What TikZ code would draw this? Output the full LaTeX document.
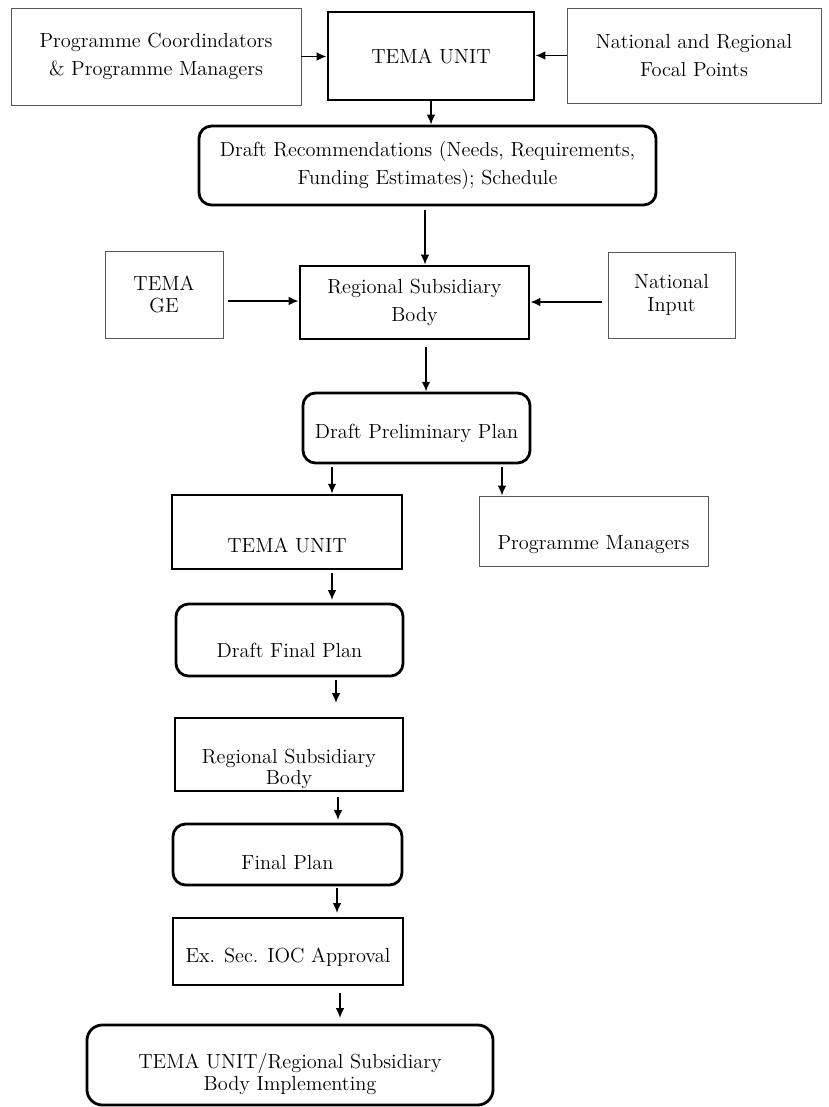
\documentclass[tikz,border=0pt]{standalone}
\usepackage{amssymb,amsmath}
\usepackage{fontspec}
\usepackage{xcolor}
\usepackage{tikz}
\usetikzlibrary{arrows.meta}

\begin{document}
\begin{tikzpicture}[x=0.025cm, y=-0.025cm, >={Latex[length=7pt,width=6pt]},
    font=\fontsize{14.5}{20}\selectfont,
    every node/.style={align=center, inner sep=0pt},
    thinbox/.style={draw=black!65, line width=0.6pt},
    thickbox/.style={draw, line width=2pt},
    roundbox/.style={draw, line width=2pt, rounded corners=9pt},
    arr/.style={->, line width=1pt}]
\useasboundingbox (0,0) rectangle (829,1107);

% top row
\node[thinbox, minimum width=7.25cm, minimum height=2.425cm] (pc) at (156,56.5)
  {Programme Coordindators\\ \& Programme Managers};
\node[thickbox, minimum width=5.15cm, minimum height=2.2cm] (tema1) at (431,56) {TEMA UNIT};
\node[thinbox, minimum width=6.35cm, minimum height=2.375cm] (nrfp) at (694,55.5)
  {National and Regional\\ Focal Points};
\draw[arr] (pc.east) -- (pc.east -| tema1.west);
\draw[arr] (nrfp.west) -- (nrfp.west -| tema1.east);

\node[roundbox, minimum width=11.425cm, minimum height=1.975cm] (recs) at (427.5,165.5)
  {Draft Recommendations (Needs, Requirements,\\ Funding Estimates); Schedule};
\draw[arr] (tema1.south) -- (tema1.south |- recs.north);

% second row
\node[thickbox, minimum width=5.725cm, minimum height=1.825cm] (rsb1) at (414.5,302.5)
  {Regional Subsidiary\\ Body};
\node[thinbox, minimum width=2.95cm, minimum height=2.175cm] (temage) at (164,294.5)
  {TEMA\\[-4pt] GE};
\node[thinbox, minimum width=3.175cm, minimum height=2.15cm] (natin) at (671.5,295)
  {National\\[-4pt] Input};
\coordinate (r1) at (425,210);
\coordinate (g1) at (228,301);
\coordinate (n1) at (602,302);
\draw[arr] (r1) -- (r1 |- rsb1.north);
\draw[arr] (g1) -- (g1 -| rsb1.west);
\draw[arr] (n1) -- (n1 -| rsb1.east);

\node[roundbox, minimum width=5.675cm, minimum height=1.75cm,
  label={[yshift=-0.125cm]center:Draft Preliminary Plan}] (dpp) at (416.5,428) {};
\coordinate (r2) at (426,347);
\draw[arr] (r2) -- (r2 |- dpp.north);

% split
\node[thickbox, minimum width=5.75cm, minimum height=1.85cm,
  label={[yshift=-0.325cm]center:TEMA UNIT}] (tema2) at (287,532) {};
\node[thinbox, minimum width=5.725cm, minimum height=1.75cm,
  label={[yshift=-0.35cm]center:Programme Managers}] (pm) at (593.5,531) {};
\coordinate (d1) at (332,467);
\coordinate (d2) at (502,467);
\draw[arr] (d1) -- (d1 |- tema2.north);
\draw[arr] (d2) -- (d2 |- pm.north);

% lower column
\node[roundbox, minimum width=5.675cm, minimum height=1.8cm,
  label={[yshift=-0.25cm]center:Draft Final Plan}] (dfp) at (289.5,640) {};
\node[thickbox, minimum width=5.7cm, minimum height=1.825cm,
  label={[yshift=-0.36cm]center:Regional Subsidiary\\[-4.5pt] Body}] (rsb2) at (289,754.5) {};
\node[roundbox, minimum width=5.725cm, minimum height=1.525cm,
  label={[yshift=-0.19cm]center:Final Plan}] (fp) at (287.5,854.5) {};
\node[thickbox, minimum width=5.75cm, minimum height=1.675cm,
  label={[yshift=-0.14cm]center:Ex. Sec. IOC Approval}] (exsec) at (288,951.5) {};
\node[roundbox, minimum width=10.15cm, minimum height=2cm, rounded corners=11pt,
  label={[yshift=-0.22cm]center:TEMA UNIT/Regional Subsidiary\\[-4.5pt] Body Implementing}] (final) at (290,1065) {};

\coordinate (t2a) at (332,573);  \coordinate (t2b) at (332,600);
\coordinate (f1a) at (336,680);  \coordinate (f1b) at (336,703);
\coordinate (s2a) at (338,797);  \coordinate (s2b) at (338,820);
\coordinate (f2a) at (337,888);  \coordinate (f2b) at (337,913);
\coordinate (e1a) at (340,993);  \coordinate (e1b) at (340,1018);
\draw[arr] (t2a) -- (t2b);
\draw[arr] (f1a) -- (f1b);
\draw[arr] (s2a) -- (s2b);
\draw[arr] (f2a) -- (f2b);
\draw[arr] (e1a) -- (e1b);
\end{tikzpicture}
\end{document}
